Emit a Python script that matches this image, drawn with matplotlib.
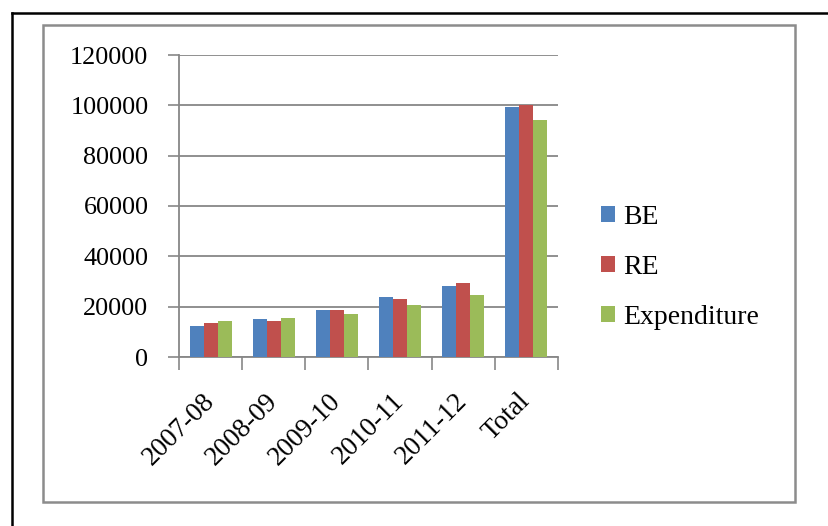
import matplotlib

matplotlib.use("Agg")
import matplotlib.pyplot as plt
import numpy as np
from matplotlib.lines import Line2D
from matplotlib.patches import Rectangle

plt.rcParams["font.family"] = ["Liberation Serif", "DejaVu Serif"]

years = ["2007-08", "2008-09", "2009-10", "2010-11", "2011-12", "Total"]
be = [12400, 15000, 18550, 23700, 28300, 99200]
re_ = [13500, 14400, 18550, 23200, 29300, 100100]
expenditure = [14400, 15500, 17100, 20650, 24750, 94150]

SERIES = [("BE", be, "#4F81BD"), ("RE", re_, "#C0504D"),
          ("Expenditure", expenditure, "#9BBB59")]
GRID = "#878787"
W, H = 829, 526

fig = plt.figure(figsize=(W / 100, H / 100), dpi=100)
ax = fig.add_axes([179 / W, 1 - 357 / H, (558 - 179) / W, (357 - 55) / H])

x = np.arange(len(years))
w = 0.222
for i, (name, vals, color) in enumerate(SERIES):
    ax.bar(x + (i - 1) * w, vals, w, color=color, label=name, zorder=3)

ax.set_xlim(-0.5, len(years) - 0.5)
ax.set_ylim(0, 120000)
ax.set_yticks(range(0, 120001, 20000))
ax.tick_params(axis="y", labelsize=18.8, length=8, width=1.2, color=GRID, pad=14)
ax.yaxis.grid(True, color=GRID, linewidth=1.3, zorder=0)

# category ticks sit on the group boundaries, labels in the middle
ax.set_xticks(np.arange(len(years) + 1) - 0.5)
ax.set_xticklabels([])
ax.set_xticks(x, minor=True)
ax.set_xticklabels(years, minor=True, rotation=45, ha="right",
                   va="center", rotation_mode="anchor")
ax.tick_params(axis="x", which="major", length=9, width=1.2, color=GRID)
ax.tick_params(axis="x", which="minor", length=0, labelsize=19.5, pad=29)

for side in ("top", "right"):
    ax.spines[side].set_visible(False)
for side in ("left", "bottom"):
    ax.spines[side].set_color(GRID)
    ax.spines[side].set_linewidth(1.3)

ax.legend(loc="center left", bbox_to_anchor=(590 / W, 1 - 267 / H),
          bbox_transform=fig.transFigure, frameon=False, fontsize=20,
          handlelength=0.5, handleheight=0.5, handletextpad=0.3,
          labelspacing=0.9, borderaxespad=0)

# chart frame and page border
fig.add_artist(Rectangle((43 / W, 1 - 502 / H), (795 - 43) / W, (502 - 25) / H,
                         transform=fig.transFigure, fill=False,
                         edgecolor="#8c8c8c", linewidth=1.8))
fig.add_artist(Line2D([12 / W, 12 / W], [0, 1 - 13 / H],
                      transform=fig.transFigure, color="black", linewidth=1.8))
fig.add_artist(Line2D([12 / W, 1], [1 - 13 / H, 1 - 13 / H],
                      transform=fig.transFigure, color="black", linewidth=1.8))

fig.savefig("out.png", dpi=100, facecolor="white")
